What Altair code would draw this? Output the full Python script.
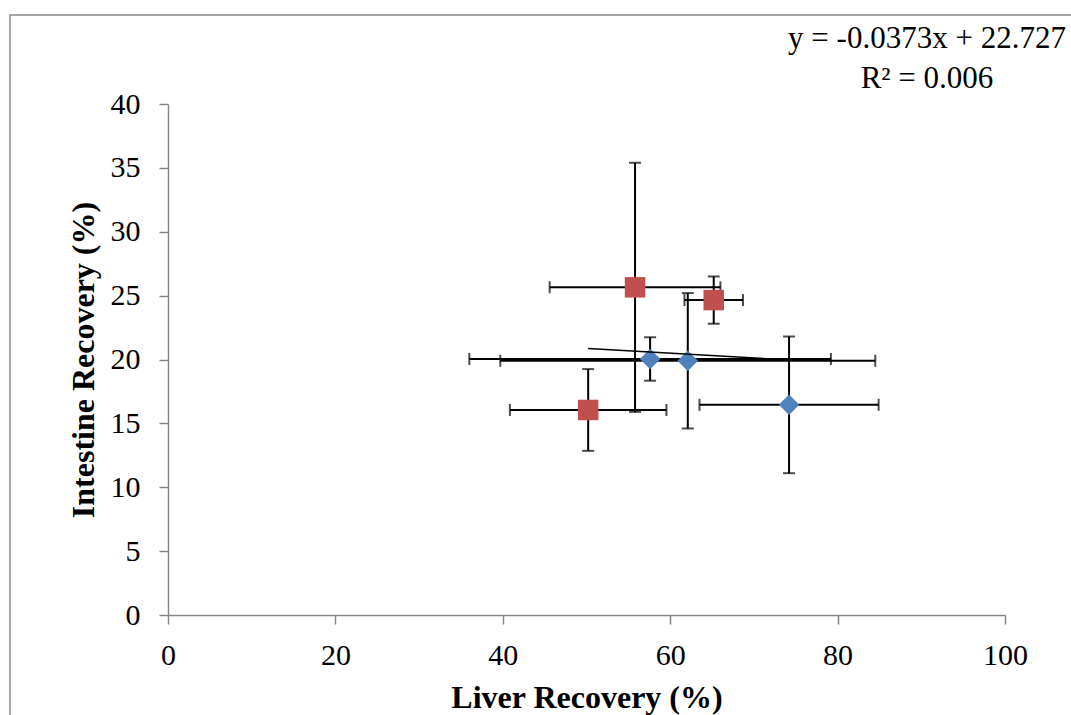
import altair as alt
import pandas as pd

# ---- data ----
blue_x = [57.6, 62.1, 74.2]
blue_y = [20.04, 19.9, 16.45]
blue_xerr = [21.6, 22.4, 10.7]
blue_yerr = [1.7, 5.3, 5.35]

red_x = [55.8, 65.2, 50.2]
red_y = [25.65, 24.65, 16.05]
red_xerr = [10.2, 3.5, 9.35]
red_yerr = [9.75, 1.85, 3.2]

trend_slope = -0.0373
trend_intercept = 22.727
eq_lines = ["y = -0.0373x + 22.727", "R² = 0.006"]

x_ticks = [0, 20, 40, 60, 80, 100]
y_ticks = [0, 5, 10, 15, 20, 25, 30, 35, 40]

# ---- tables ----
rows = []
for s, xs_, ys_, xe, ye in [("A", blue_x, blue_y, blue_xerr, blue_yerr),
                            ("B", red_x, red_y, red_xerr, red_yerr)]:
    for x, y, dx, dy in zip(xs_, ys_, xe, ye):
        rows.append(dict(series=s, x=x, y=y, xlo=x - dx, xhi=x + dx,
                         ylo=y - dy, yhi=y + dy))
pts = pd.DataFrame(rows)

hcaps = pd.concat([pts[["x"]].assign(cy=pts["ylo"]), pts[["x"]].assign(cy=pts["yhi"])])
vcaps = pd.concat([pts[["y"]].assign(cx=pts["xlo"]), pts[["y"]].assign(cx=pts["xhi"])])

xmin, xmax = pts["x"].min(), pts["x"].max()
trend = pd.DataFrame({"x": [xmin, xmax]})
trend["y"] = trend_slope * trend["x"] + trend_intercept

eq = pd.DataFrame({"label": ["\n".join(eq_lines)]})

FONT = "Liberation Serif"
xs = alt.Scale(domain=[0, 100], nice=False, zero=True)
ys = alt.Scale(domain=[0, 40], nice=False, zero=True)

xaxis = alt.Axis(values=x_ticks, title="Liver Recovery (%)", grid=False,
                 titleY=92, titleBaseline="alphabetic", labelFlush=False)
yaxis = alt.Axis(values=y_ticks, title="Intestine Recovery (%)", grid=False,
                 titleX=-75, titleBaseline="alphabetic", titleAngle=-90, labelFlush=False)

base = alt.Chart(pts)

border = alt.Chart(pd.DataFrame({"a": [0]})).mark_rect(
    filled=False, stroke="#898989", strokeWidth=1.5, clip=False
).encode(x=alt.value(-158), x2=alt.value(1000), y=alt.value(-89), y2=alt.value(700))

vbars = base.mark_rule(color="black", strokeWidth=2).encode(
    x=alt.X("x:Q", scale=xs, axis=xaxis),
    y=alt.Y("ylo:Q", scale=ys, axis=yaxis),
    y2="yhi:Q")

hbars = base.mark_rule(color="black", strokeWidth=2).encode(
    x=alt.X("xlo:Q", scale=xs), x2="xhi:Q",
    y=alt.Y("y:Q", scale=ys))

hcap = alt.Chart(hcaps).mark_tick(orient="horizontal", size=12, thickness=2, color="black").encode(
    x=alt.X("x:Q", scale=xs), y=alt.Y("cy:Q", scale=ys))

vcap = alt.Chart(vcaps).mark_tick(orient="vertical", size=12, thickness=2, color="black").encode(
    x=alt.X("cx:Q", scale=xs), y=alt.Y("y:Q", scale=ys))

markers = base.mark_point(filled=True, size=420, opacity=1).encode(
    x=alt.X("x:Q", scale=xs), y=alt.Y("y:Q", scale=ys),
    shape=alt.Shape("series:N", scale=alt.Scale(domain=["A", "B"], range=["diamond", "square"]), legend=None),
    color=alt.Color("series:N", scale=alt.Scale(domain=["A", "B"], range=["#4F81BD", "#C0504D"]), legend=None))

trendline = alt.Chart(trend).mark_line(color="black", strokeWidth=1.5).encode(
    x=alt.X("x:Q", scale=xs), y=alt.Y("y:Q", scale=ys))

eqtext = alt.Chart(eq).mark_text(
    font=FONT, fontSize=31, align="center", baseline="alphabetic", lineBreak="\n",
    lineHeight=40, color="black"
).encode(text="label:N", x=alt.value(759), y=alt.value(-56))

chart = alt.layer(border, vbars, hbars, hcap, vcap, markers, trendline, eqtext).properties(
    width=837, height=511,
    padding={"left": 168, "top": 104, "right": 66, "bottom": 100},
    autosize="none",
    background="white",
).configure_view(stroke=None).configure_axis(
    domainColor="#868686", domainWidth=1.5, tickColor="#868686", tickWidth=1.5,
    tickSize=9, labelFont=FONT, labelFontSize=30, labelColor="black",
    titleFont=FONT, titleFontSize=32, titleFontWeight="bold", titleColor="black",
).configure_axisX(labelPadding=16).configure_axisY(labelPadding=19)

chart.save("out.html", embed_options={"renderer": "svg", "actions": False})
